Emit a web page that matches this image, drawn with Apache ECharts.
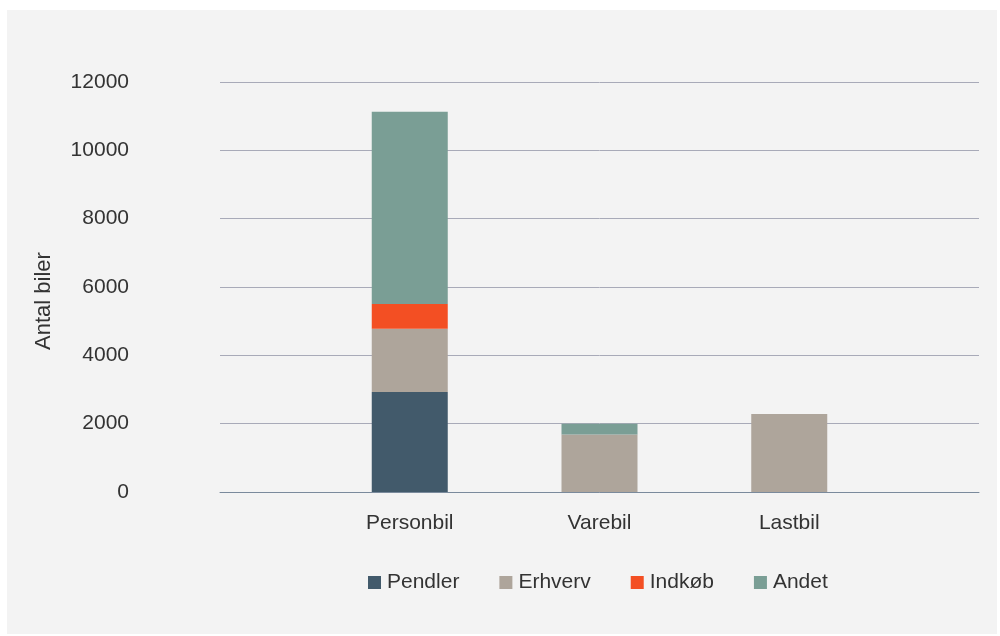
<!DOCTYPE html>
<html>
<head>
<meta charset="utf-8">
<script src="https://cdn.jsdelivr.net/npm/echarts@6/dist/echarts.min.js"></script>
<style>
  html, body { margin: 0; padding: 0; background: #ffffff; }
  #bg { position: absolute; left: 7px; top: 10px; width: 990px; height: 624px; background: #f3f3f3; }
  #chart { position: absolute; left: 0; top: 0; width: 1000px; height: 636px; }
</style>
</head>
<body>
<div id="bg"></div>
<div id="chart"></div>
<script>
const categories = ['', 'Personbil', 'Varebil', 'Lastbil', ''];
const seriesNames = ['Pendler', 'Erhverv', 'Indkøb', 'Andet'];
const pendler = [null, 2925, 0, 0, null];
const erhverv = [null, 1850, 1680, 2280, null];
const indkob  = [null, 730, 0, 0, null];
const andet   = [null, 5625, 320, 0, null];
const yTicks = { min: 0, max: 12000, interval: 2000 };
const colors = ['#425a6b', '#aea59b', '#f34f23', '#7a9e95'];

const values = [pendler, erhverv, indkob, andet];
const chart = echarts.init(document.getElementById('chart'));
const font = 'Liberation Sans, Helvetica, Arial, sans-serif';
chart.setOption({
  backgroundColor: 'transparent',
  animation: false,
  color: colors,
  grid: { left: 220, right: 21, top: 82, bottom: 144, containLabel: false },
  legend: {
    data: seriesNames,
    top: 567,
    left: 363,
    itemWidth: 13,
    itemHeight: 13,
    itemGap: 40,
    icon: 'rect',
    textStyle: { fontFamily: font, fontSize: 21, color: '#333333', padding: [0, 0, 0, 1] }
  },
  xAxis: {
    type: 'category',
    data: categories,
    boundaryGap: false,
    axisLine: { lineStyle: { color: '#7a8a9c', width: 1 } },
    axisTick: { show: false },
    axisLabel: { fontFamily: font, fontSize: 21, color: '#333333', margin: 21 },
    splitLine: { show: false }
  },
  yAxis: {
    type: 'value',
    min: yTicks.min, max: yTicks.max, interval: yTicks.interval,
    name: 'Antal biler',
    nameLocation: 'middle',
    nameGap: 165,
    nameTextStyle: { fontFamily: font, fontSize: 22, color: '#333333', padding: [0, 28, 0, 0] },
    axisLine: { show: false },
    axisTick: { show: false },
    axisLabel: { fontFamily: font, fontSize: 21, color: '#333333', margin: 91, formatter: (v) => String(v) },
    splitLine: { lineStyle: { color: '#a8aab8', width: 1 } }
  },
  series: seriesNames.map((name, i) => ({
    name: name,
    type: 'bar',
    stack: 'total',
    barWidth: 76,
    data: values[i],
    itemStyle: { color: colors[i] }
  }))
});
</script>
</body>
</html>
